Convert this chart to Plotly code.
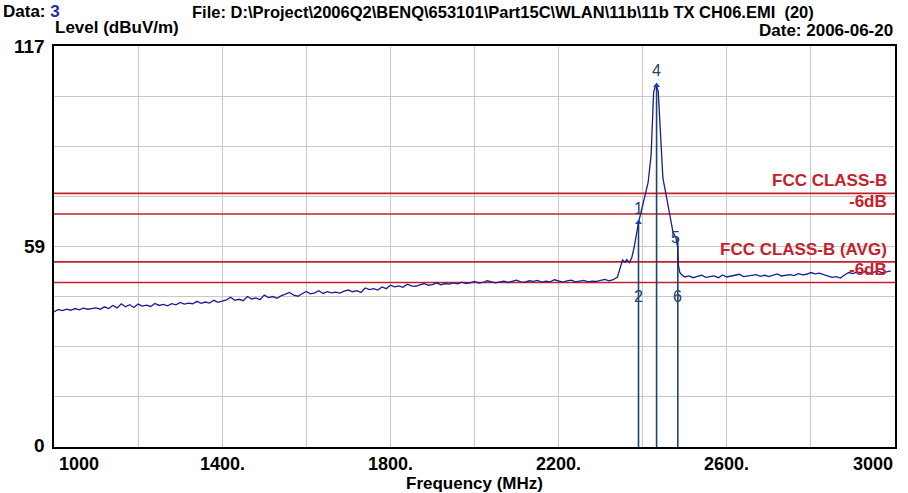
import plotly.graph_objects as go

# ---- measured spectrum (MHz, dBuV/m) ----
freq_mhz = [
    1000, 1010, 1020, 1030, 1040, 1050, 1060, 1070, 1080, 1090,
    1100, 1110, 1120, 1130, 1140, 1150, 1160, 1170, 1180, 1190,
    1200, 1210, 1220, 1230, 1240, 1250, 1260, 1270, 1280, 1290,
    1300, 1310, 1320, 1330, 1340, 1350, 1360, 1370, 1380, 1390,
    1400, 1410, 1420, 1430, 1440, 1450, 1460, 1470, 1480, 1490,
    1500, 1510, 1520, 1530, 1540, 1550, 1560, 1570, 1580, 1590,
    1600, 1610, 1620, 1630, 1640, 1650, 1660, 1670, 1680, 1690,
    1700, 1710, 1720, 1730, 1740, 1750, 1760, 1770, 1780, 1790,
    1800, 1810, 1820, 1830, 1840, 1850, 1860, 1870, 1880, 1890,
    1900, 1910, 1920, 1930, 1940, 1950, 1960, 1970, 1980, 1990,
    2000, 2010, 2020, 2030, 2040, 2050, 2060, 2070, 2080, 2090,
    2100, 2110, 2120, 2130, 2140, 2150, 2160, 2170, 2180, 2190,
    2200, 2210, 2220, 2230, 2240, 2250, 2260, 2270, 2280, 2290,
    2300, 2310, 2320, 2330, 2340,
    2348, 2352, 2358, 2362, 2368, 2374, 2380, 2386, 2390, 2396,
    2405, 2413, 2420, 2423, 2426, 2430, 2433, 2437, 2441, 2446,
    2448, 2457, 2465, 2472, 2479, 2483, 2485, 2488, 2492,
    2500, 2510, 2520, 2530, 2540, 2550, 2560, 2570, 2580, 2590,
    2600, 2610, 2620, 2630, 2640, 2650, 2660, 2670, 2680, 2690,
    2700, 2710, 2720, 2730, 2740, 2750, 2760, 2770, 2780, 2790,
    2800, 2810, 2820, 2830, 2840, 2850, 2860, 2870, 2880, 2890,
    2900, 2910, 2920, 2930, 2940, 2950, 2960, 2970, 2980, 2990,
]
level_dbuv = [
    39.4, 40.1, 39.8, 40.2, 39.9, 40.4, 40.0, 40.5, 40.2, 40.3,
    40.6, 40.2, 40.9, 40.4, 41.3, 40.6, 41.8, 40.9, 41.5, 40.7,
    41.7, 41.1, 41.4, 41.0, 41.9, 41.3, 41.6, 41.2, 41.8, 41.5,
    42.2, 41.7, 42.0, 41.8, 42.5, 41.9, 42.3, 42.0, 42.8, 42.2,
    42.6, 42.9, 43.7, 42.8, 43.1, 42.7, 43.9, 43.2, 43.5, 43.0,
    44.3, 43.6, 43.9, 43.4, 44.1, 44.6, 45.1, 44.3, 44.0, 44.7,
    45.4, 44.7, 45.0, 45.6, 44.8, 45.3, 45.0, 45.2, 44.9, 45.5,
    45.8, 45.3, 45.6, 45.1, 46.4, 45.9, 46.2, 45.8, 46.7, 46.2,
    47.2, 46.7, 47.0, 46.6, 47.5, 47.0, 46.9, 47.3, 47.7, 47.2,
    47.4, 47.9, 47.3, 47.7, 47.5, 47.9, 47.6, 48.1, 47.7, 47.9,
    48.3, 47.8, 48.0, 48.5, 48.1, 47.9, 48.2, 48.4, 48.0, 48.3,
    48.7, 48.2, 48.1, 48.5, 48.3, 48.6, 48.1, 48.4, 48.2, 48.8,
    48.4, 48.1, 48.5, 48.7, 48.2, 48.3, 48.6, 48.2, 48.4, 48.3,
    48.6, 48.9, 48.5, 48.8, 49.6,
    52.6, 54.6, 53.9, 54.7, 53.8, 55.2, 58.5, 63.5, 65.5, 68.5,
    72.7, 77.3, 85.2, 94.8, 103.6, 105.2, 105.5, 103.6, 94.8, 85.2,
    78.5, 72.7, 67.7, 62.7, 61.0, 58.5, 53.0, 51.0, 50.3,
    49.6, 49.9, 49.4, 49.8, 50.1, 49.5, 49.7, 49.9, 49.4, 50.2,
    49.6, 49.8, 50.1, 50.4, 49.7, 49.9, 50.0, 50.3, 49.8, 50.1,
    49.7, 50.2, 50.5, 49.9, 50.1, 50.3, 50.0, 50.6, 50.2, 50.4,
    50.9, 50.5, 50.7, 50.3, 49.8, 49.5, 49.7, 49.3, 50.2, 50.9,
    50.6, 51.1, 50.8, 51.2, 50.7, 51.0, 51.3, 50.8, 51.1, 51.4,
]

# ---- limit lines ----
limit_names = ["FCC CLASS-B", "-6dB", "FCC CLASS-B (AVG)", "-6dB"]
limit_levels = [74, 68, 54, 48]

# ---- markers ----
marker_ids = ["1", "2", "4", "5", "6"]
marker_freq = [2390, 2390, 2433, 2483.5, 2483.5]
marker_level = [65.5, 43.8, 105.5, 61.0, 43.8]
marker_anchor = ["bottom", "middle", "bottom", "middle", "middle"]
marker_line_freq = [2390, 2433, 2483.5]
marker_line_top = [65.5, 105.5, 61.0]

# ---- axis ticks ----
x_grid = [1000, 1200, 1400, 1600, 1800, 2000, 2200, 2400, 2600, 2800, 3000]
x_label_vals = [1000, 1400, 1800, 2200, 2600, 3000]
x_label_text = ["1000", "1400.", "1800.", "2200.", "2600.", "3000"]
y_grid = [0, 14.625, 29.25, 43.875, 58.5, 73.125, 87.75, 102.375, 117]
y_label_vals = [0, 58.5, 117]
y_label_text = ["0", "59", "117"]

FONT = "Liberation Sans, Arial, sans-serif"
RED = "#c8202a"
TRACE = "#1c1c8e"
MARK = "#21456a"

fig = go.Figure()

# limit lines
for lv in limit_levels:
    fig.add_trace(go.Scatter(x=[1000, 3000], y=[lv, lv], mode="lines",
                             line=dict(color=RED, width=1.6),
                             hoverinfo="skip", showlegend=False))

# marker verticals
for f, top in zip(marker_line_freq, marker_line_top):
    fig.add_trace(go.Scatter(x=[f, f], y=[0, top], mode="lines",
                             line=dict(color=MARK, width=1.6),
                             hoverinfo="skip", showlegend=False))

# spectrum trace
fig.add_trace(go.Scatter(x=freq_mhz, y=level_dbuv, mode="lines",
                         line=dict(color=TRACE, width=1.3),
                         showlegend=False))

# marker pips on the trace
pip_idx = [0, 2]
fig.add_trace(go.Scatter(x=[marker_freq[i] for i in pip_idx],
                         y=[marker_level[i] for i in pip_idx],
                         mode="markers",
                         marker=dict(symbol="triangle-up", size=6, color="#1a3fb0"),
                         hoverinfo="skip", showlegend=False))

annotations = []

# limit-line captions, right-aligned inside the plot
for name, lv in zip(limit_names, limit_levels):
    annotations.append(dict(x=3000, y=lv, xref="x", yref="y", text="<b>%s</b>" % name,
                            showarrow=False, xanchor="right", yanchor="bottom",
                            xshift=-6, yshift=1,
                            font=dict(family=FONT, size=17, color=RED)))

# marker numbers
for mid, f, lv, anc in zip(marker_ids, marker_freq, marker_level, marker_anchor):
    annotations.append(dict(x=f, y=lv, xref="x", yref="y", text=mid,
                            showarrow=False, xanchor="center", yanchor=anc,
                            xshift=-2 if mid == "5" else 0,
                            yshift=4 if anc == "bottom" else 0,
                            font=dict(family=FONT, size=16, color=MARK)))

# x tick labels
for v, t in zip(x_label_vals, x_label_text):
    xa = "left" if v == x_label_vals[0] else ("right" if v == x_label_vals[-1] else "center")
    annotations.append(dict(x=v, y=0, xref="x", yref="y", text="<b>%s</b>" % t,
                            showarrow=False, xanchor=xa, yanchor="top",
                            xshift=3 if xa == "left" else 0, yshift=-5,
                            font=dict(family=FONT, size=18, color="black")))

# y tick labels
for v, t in zip(y_label_vals, y_label_text):
    annotations.append(dict(x=0, y=v, xref="paper", yref="y", text="<b>%s</b>" % t,
                            showarrow=False, xanchor="right", yanchor="middle",
                            xshift=-7, yshift=2 if v == 0 else 0,
                            font=dict(family=FONT, size=19, color="black")))

# header and axis titles
W, H, L, T, R, B = 908, 493, 54, 46, 13, 46
pw, ph = W - L - R, H - T - B


def px(x):
    return (x - L) / pw


def py(y):
    return (H - B - y) / ph


header_font = dict(family=FONT, size=17, color="black")
annotations += [
    dict(x=px(1), y=py(12), xref="paper", yref="paper", xanchor="left", yanchor="middle",
         text="<b>Data: <span style='color:#2828a8'>3</span></b>", showarrow=False, font=header_font),
    dict(x=px(190), y=py(12), xref="paper", yref="paper", xanchor="left", yanchor="middle",
         text="<b>File: D:\\Project\\2006Q2\\BENQ\\653101\\Part15C\\WLAN\\11b\\11b TX CH06.EMI&nbsp;&nbsp;(20)</b>",
         showarrow=False, font=dict(family=FONT, size=16.5, color="black")),
    dict(x=px(53), y=py(28), xref="paper", yref="paper", xanchor="left", yanchor="middle",
         text="<b>Level (dBuV/m)</b>", showarrow=False, font=header_font),
    dict(x=px(895), y=py(30), xref="paper", yref="paper", xanchor="right", yanchor="middle",
         text="<b>Date: 2006-06-20</b>", showarrow=False, font=header_font),
    dict(x=px(474), y=py(484), xref="paper", yref="paper", xanchor="center", yanchor="middle",
         text="<b>Frequency (MHz)</b>", showarrow=False, font=header_font),
]

fig.update_layout(
    width=W, height=H,
    margin=dict(l=L, r=R, t=T, b=B, pad=0),
    paper_bgcolor="white", plot_bgcolor="white",
    showlegend=False,
    annotations=annotations,
    xaxis=dict(range=[1000, 3000], tickmode="array", tickvals=x_grid,
               showticklabels=False, ticks="", showgrid=True,
               gridcolor="#c9c9c9", gridwidth=1, zeroline=False,
               showline=True, linecolor="black", linewidth=2, mirror=True),
    yaxis=dict(range=[0, 117], tickmode="array", tickvals=y_grid,
               showticklabels=False, ticks="", showgrid=True,
               gridcolor="#c9c9c9", gridwidth=1, zeroline=False,
               showline=True, linecolor="black", linewidth=2, mirror=True),
)

fig.write_html("out.html")
